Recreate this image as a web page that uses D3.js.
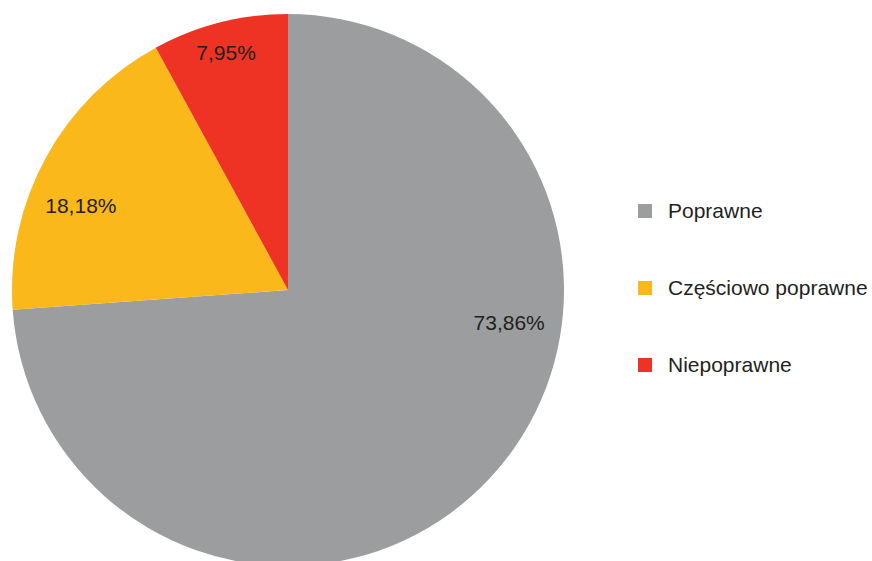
<!DOCTYPE html>
<html>
<head>
<meta charset="utf-8">
<script src="https://cdn.jsdelivr.net/npm/d3@7"></script>
<style>
  body { margin: 0; background: #fff; }
  svg { display: block; }
  text { font-family: "Liberation Sans", Arial, sans-serif; fill: #231f20; }
</style>
</head>
<body>
<svg id="chart" width="872" height="561"></svg>
<script>
// Answer categories and their shares (percent)
const categories = ["Poprawne", "Częściowo poprawne", "Niepoprawne"];
const values = [73.86, 18.18, 7.95];
const valueLabels = ["73,86%", "18,18%", "7,95%"];
const colors = ["#9b9d9f", "#fbb81a", "#ee3324"];

const svg = d3.select("#chart");
const cx = 288, cy = 290, r = 276;

const pie = d3.pie().sort(null).value(d => d);
const arcs = pie(values);
const arc = d3.arc().innerRadius(0).outerRadius(r);

const g = svg.append("g").attr("transform", `translate(${cx},${cy})`);

g.selectAll("path")
  .data(arcs)
  .join("path")
  .attr("d", arc)
  .attr("fill", (d, i) => colors[i]);

// Label placement per slice: fraction along the slice's sweep, fraction of radius
const labelAngleFrac = [0.37, 0.40, 0.49];
const labelRadiusFrac = [0.81, 0.81, 0.89];
g.selectAll("text.val")
  .data(arcs)
  .join("text")
  .attr("class", "val")
  .attr("transform", (d, i) => {
    const a = d.startAngle + (d.endAngle - d.startAngle) * labelAngleFrac[i];
    const rr = r * labelRadiusFrac[i];
    return `translate(${Math.sin(a) * rr},${-Math.cos(a) * rr})`;
  })
  .attr("text-anchor", "middle")
  .attr("dy", "0.35em")
  .attr("font-size", 21)
  .text((d, i) => valueLabels[i]);

// Legend
const legend = svg.append("g").attr("transform", "translate(638,204)");
const rowGap = 77;
const rows = legend.selectAll("g")
  .data(categories)
  .join("g")
  .attr("transform", (d, i) => `translate(0,${i * rowGap})`);
rows.append("rect")
  .attr("width", 14).attr("height", 14)
  .attr("fill", (d, i) => colors[i]);
rows.append("text")
  .attr("x", 30).attr("y", 7)
  .attr("dy", "0.35em")
  .attr("font-size", 21)
  .text(d => d);
</script>
</body>
</html>
